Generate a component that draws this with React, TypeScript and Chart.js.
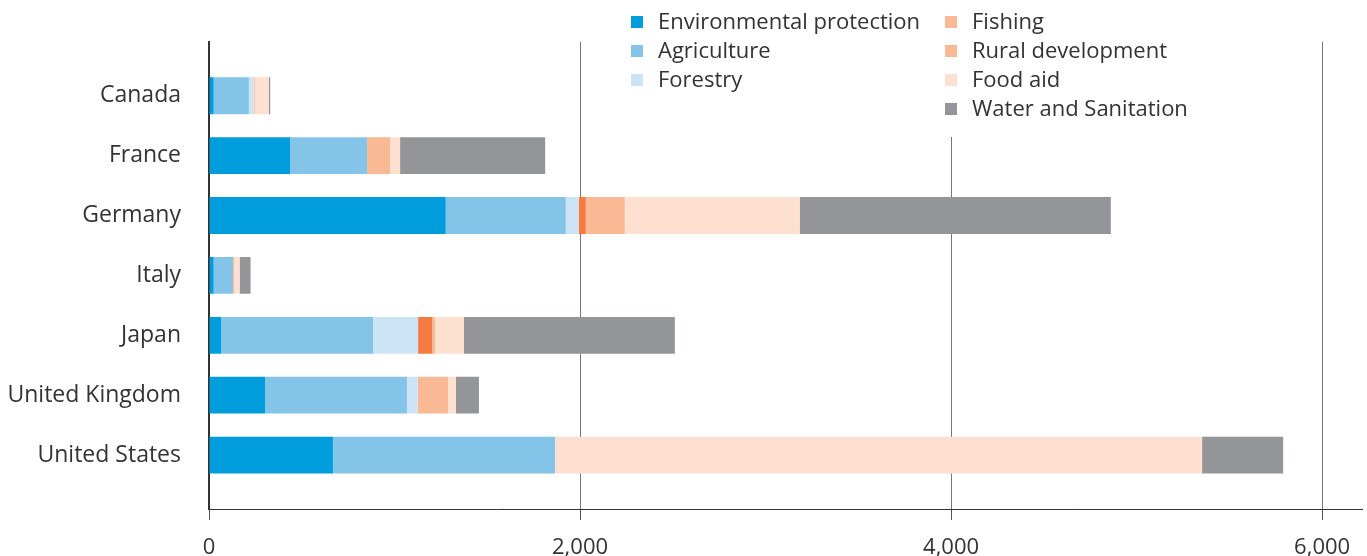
import React, { useEffect, useRef } from "react";
import { Chart, registerables } from "chart.js";

Chart.register(...registerables);

const countries = ["Canada", "France", "Germany", "Italy", "Japan", "United Kingdom", "United States"];
const seriesNames = [
  "Environmental protection",
  "Agriculture",
  "Forestry",
  "Fishing",
  "Rural development",
  "Food aid",
  "Water and Sanitation",
];
const environmental = [25, 437, 1276, 25, 65, 302, 668];
const agriculture = [190, 415, 647, 104, 819, 765, 1197];
const forestry = [25, 0, 70, 0, 243, 59, 0];
const fishing = [0, 0, 38, 0, 75, 0, 0];
const ruralDev = [7, 124, 210, 7, 16, 162, 0];
const foodAid = [75, 54, 943, 29, 156, 43, 3488];
const water = [8, 782, 1677, 59, 1137, 124, 437];
const xTicks = [0, 2000, 4000, 6000];

const barColors = ["#009ddc", "#85c4e9", "#cce4f6", "#f47b41", "#f9b994", "#fde0d0", "#949599"];
const legendColors = ["#009ddc", "#85c4e9", "#cce4f6", "#f9b994", "#f9b994", "#fde0d0", "#949599"];

const FONT = "'Open Sans', 'Noto Sans', sans-serif";
const TEXT = "#333333";

const legendPlugin = {
  id: "customLegend",
  afterDraw(chart: any) {
    const ctx = chart.ctx;
    ctx.save();
    ctx.fillStyle = "#ffffff";
    ctx.fillRect(620, 0, 578, 137);
    ctx.font = `22px ${FONT}`;
    ctx.textBaseline = "middle";
    ctx.textAlign = "left";
    const cols = [
      { sx: 631, tx: 658, items: [0, 1, 2] },
      { sx: 945, tx: 972, items: [3, 4, 5, 6] },
    ];
    cols.forEach((c) => {
      c.items.forEach((idx, r) => {
        const cy = 22 + r * 29;
        ctx.fillStyle = legendColors[idx];
        ctx.fillRect(c.sx, cy - 6, 12, 12);
        ctx.fillStyle = TEXT;
        ctx.fillText(seriesNames[idx], c.tx, cy + 1);
      });
    });
    ctx.restore();
  },
};

export default function App() {
  const ref = useRef<HTMLCanvasElement | null>(null);
  useEffect(() => {
    if (!ref.current) return;
    const all = [environmental, agriculture, forestry, fishing, ruralDev, foodAid, water];
    const chart = new Chart(ref.current, {
      type: "bar",
      data: {
        datasets: all.map((arr, k) => ({
          label: seriesNames[k],
          data: arr.map((v, i) => ({ x: v, y: i })),
          backgroundColor: barColors[k],
          borderWidth: 0,
          categoryPercentage: 1,
          barPercentage: 0.615,
        })),
      },
      options: {
        indexAxis: "y",
        animation: false,
        responsive: true,
        maintainAspectRatio: false,
        layout: { padding: { top: 40, right: 5, left: 0, bottom: 0 } },
        plugins: { legend: { display: false }, tooltip: { enabled: false } },
        scales: {
          x: {
            type: "linear",
            stacked: true,
            min: 0,
            max: 6215,
            afterBuildTicks: (scale: any) => {
              scale.ticks = xTicks.map((v) => ({ value: v }));
            },
            afterFit: (scale: any) => {
              scale.height = 47;
            },
            grid: {
              color: "#777777",
              lineWidth: 1,
              tickLength: 11,
              tickColor: "#555555",
            },
            border: { display: true, color: "#333333", width: 1 },
            ticks: {
              padding: 15,
              color: TEXT,
              font: { family: FONT, size: 22 },
              maxRotation: 0,
              callback: (v: any) => Number(v).toLocaleString("en-US"),
            },
          },
          y: {
            type: "linear",
            stacked: true,
            reverse: true,
            offset: false,
            min: -0.9,
            max: 6.9,
            afterBuildTicks: (scale: any) => {
              scale.ticks = countries.map((_, i) => ({ value: i }));
            },
            afterFit: (scale: any) => {
              scale.width = 209;
            },
            grid: { display: false, drawTicks: false, offset: false },
            border: { display: true, color: "#333333", width: 2 },
            ticks: {
              padding: 28,
              color: TEXT,
              font: { family: FONT, size: 23 },
              callback: (v: any) => countries[Math.round(Number(v))] ?? "",
            },
          },
        },
      },
      plugins: [legendPlugin],
    });
    return () => chart.destroy();
  }, []);
  return (
    <div style={{ position: "fixed", left: 0, top: 0, width: 1367, height: 556, background: "#fff" }}>
      <canvas ref={ref} />
    </div>
  );
}
